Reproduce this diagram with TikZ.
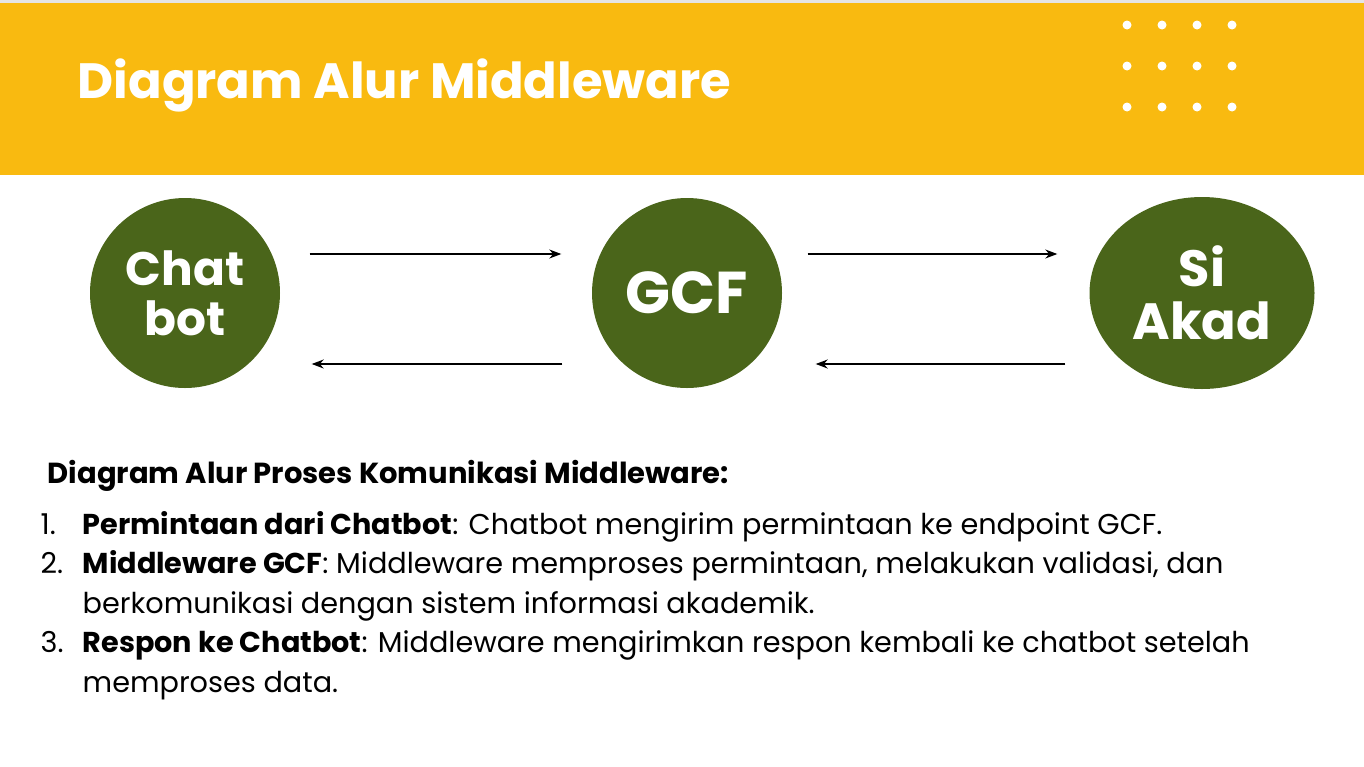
\documentclass[tikz,border=0pt]{standalone}
\usepackage{fontspec}
\setmainfont{Poppins}
\usetikzlibrary{arrows.meta,shapes.geometric}
\definecolor{headyellow}{HTML}{F9BA10}
\definecolor{leaf}{HTML}{4A651A}

\begin{document}
\begin{tikzpicture}[x=1pt,y=1pt,line width=1.4pt,>={Stealth[length=12pt,width=9pt]},
  blob/.style={fill=leaf,text=white,font=\fontsize{47}{50}\selectfont\bfseries,align=center,inner sep=0pt},
  flow/.style={->,line width=1.4pt},
  item/.style={anchor=base west,align=left,font=\fontsize{28.7}{40}\selectfont,inner sep=0pt}]
\useasboundingbox (0,0) rectangle (1364,-766);
\fill[gray!20] (0,0) rectangle (1364,-3);
\fill[headyellow] (0,-3) rectangle (1364,-175);
\foreach \i in {0,1,2,3}{\foreach \j in {0,1,2}{\fill[white] (1127+35*\i,-25-41*\j) circle(4.5);};};
\node[anchor=base west,text=white,inner sep=0pt,font=\fontsize{49.6}{50}\selectfont\bfseries] (title) at (77,-98) {Diagram Alur Middleware};
% the three stations
\node[blob,circle,minimum size=190pt] (chat) at (185,-293) {Chat\\bot};
\node[blob,circle,minimum size=190pt,font=\fontsize{59}{59}\selectfont\bfseries] (gcf) at (687,-293) {GCF};
\node[blob,ellipse,minimum width=225pt,minimum height=192pt,font=\fontsize{51}{53}\selectfont\bfseries] (siakad) at (1202,-293) {Si\\Akad};
\draw[flow] ([shift={(29,39)}]chat.east) -- ([shift={(-30,39)}]gcf.west);
\draw[flow] ([shift={(-29,-71)}]gcf.west) -- ([shift={(31,-71)}]chat.east);
\draw[flow] ([shift={(25,39)}]gcf.east) -- ([shift={(-31.5,39)}]siakad.west);
\draw[flow] ([shift={(-23.5,-71)}]siakad.west) -- ([shift={(33,-71)}]gcf.east);
% explanation, multi-line items sit on their last baseline
\node[anchor=base west,inner sep=0pt,font=\fontsize{29}{30}\selectfont\bfseries] (subtitle) at (47,-483) {Diagram Alur Proses Komunikasi Middleware:};
\foreach \n/\y in {1/534,2/573,3/652}{\node[item] (num\n) at (40,-\y) {\n.};};
\node[item] (item1) at (82,-534) {\textbf{Permintaan dari Chatbot}: Chatbot mengirim permintaan ke endpoint GCF.};
\node[item] (item2) at (82,-613) {\textbf{Middleware GCF}: Middleware memproses permintaan, melakukan validasi, dan\\berkomunikasi dengan sistem informasi akademik.};
\node[item] (item3) at (82,-692) {\textbf{Respon ke Chatbot}: Middleware mengirimkan respon kembali ke chatbot setelah\\memproses data.};
\end{tikzpicture}
\end{document}
